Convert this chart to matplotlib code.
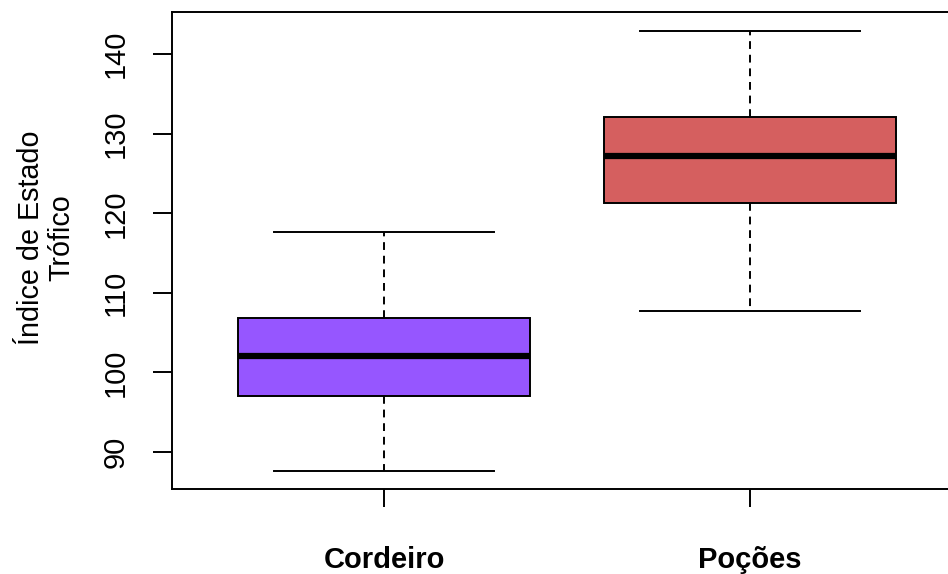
import matplotlib
matplotlib.use("Agg")
import matplotlib.pyplot as plt

plt.rcParams["font.family"] = ["Liberation Sans", "DejaVu Sans"]

## summary values (whisker low, Q1, median, Q3, whisker high)
groups = ["Cordeiro", "Poções"]
whislo = [87.6, 107.7]
q1 = [97.0, 121.3]
med = [102.1, 127.2]
q3 = [106.8, 132.1]
whishi = [117.6, 142.9]
colours = ["#9656FF", "#D55F5F"]

stats = []
for i in range(len(groups)):
	stats.append({"label": groups[i], "whislo": whislo[i], "q1": q1[i], "med": med[i],
		"q3": q3[i], "whishi": whishi[i], "fliers": []})

fig = plt.figure(figsize=(9.48, 5.74), dpi=100)
ax = fig.add_axes([172/948, 1 - 489/574, (962 - 172)/948, (489 - 12)/574])

bp = ax.bxp(stats, positions=[1, 2], widths=0.8, patch_artist=True, showfliers=False,
	boxprops=dict(linewidth=1.4, edgecolor="black"),
	medianprops=dict(color="black", linewidth=4.5, solid_capstyle="butt"),
	whiskerprops=dict(color="black", linewidth=1.4, linestyle=(0, (4, 3))),
	capprops=dict(color="black", linewidth=1.4), capwidths=0.6)
for patch, c in zip(bp["boxes"], colours):
	patch.set_facecolor(c)

ax.set_xlim(0.42, 2.58)
ax.set_ylim(85.35, 145.3)
ax.set_yticks([90, 100, 110, 120, 130, 140])
ax.set_yticklabels(["90", "100", "110", "120", "130", "140"], rotation=90, va="center", fontsize=21)
ax.set_xticks([1, 2])
ax.set_xticklabels(groups, fontsize=21, fontweight="bold")
ax.tick_params(axis="y", length=13.7, width=1.4, pad=17)
ax.tick_params(axis="x", length=13, width=1.4, pad=28)
for s in ax.spines.values():
	s.set_linewidth(1.4)

ax.set_ylabel("Índice de Estado\nTrófico", fontsize=20.7, linespacing=1.12)
ax.yaxis.set_label_coords(-0.122, 0.526)

fig.savefig("out.png", dpi=100)
